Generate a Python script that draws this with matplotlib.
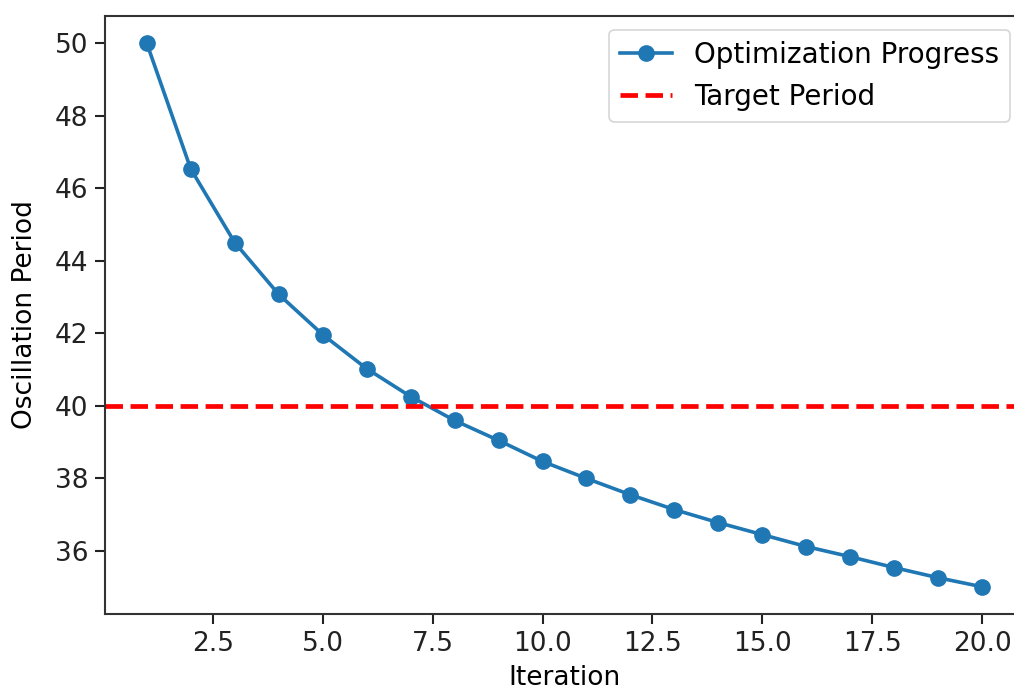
import matplotlib
matplotlib.use("Agg")
import matplotlib.pyplot as plt

# values
iterations = list(range(1, 21))
period = [50.0, 46.53, 44.50, 43.07, 41.96, 41.02, 40.25, 39.59, 39.04, 38.46,
          37.99, 37.54, 37.13, 36.77, 36.44, 36.11, 35.83, 35.53, 35.25, 35.0]
target_period = 40

W, H = 1014, 692
fig = plt.figure(figsize=(W / 100, H / 100), dpi=100)
# axes run past the right edge, as in the cropped reference
ax = fig.add_axes([105 / W, 1 - 614 / H, 919 / W, 598 / H])

ax.plot(iterations, period, marker="o", color="#1f77b4", linewidth=2.6,
        markersize=11, label="Optimization Progress")
ax.axhline(target_period, color="red", linestyle="--", linewidth=3.4,
           label="Target Period")

ax.set_xlabel("Iteration", fontsize=19, labelpad=6)
ax.set_ylabel("Oscillation Period", fontsize=19, labelpad=12)
ax.tick_params(labelsize=19, length=7, width=1.5, pad=5, colors="#222222")
for s in ax.spines.values():
    s.set_linewidth(1.5)
    s.set_color("#333333")

leg = ax.legend(loc="upper right", fontsize=20, borderaxespad=0.5,
                handlelength=1.85)
leg.get_frame().set_linewidth(1.2)

fig.savefig("out.png", dpi=100)
